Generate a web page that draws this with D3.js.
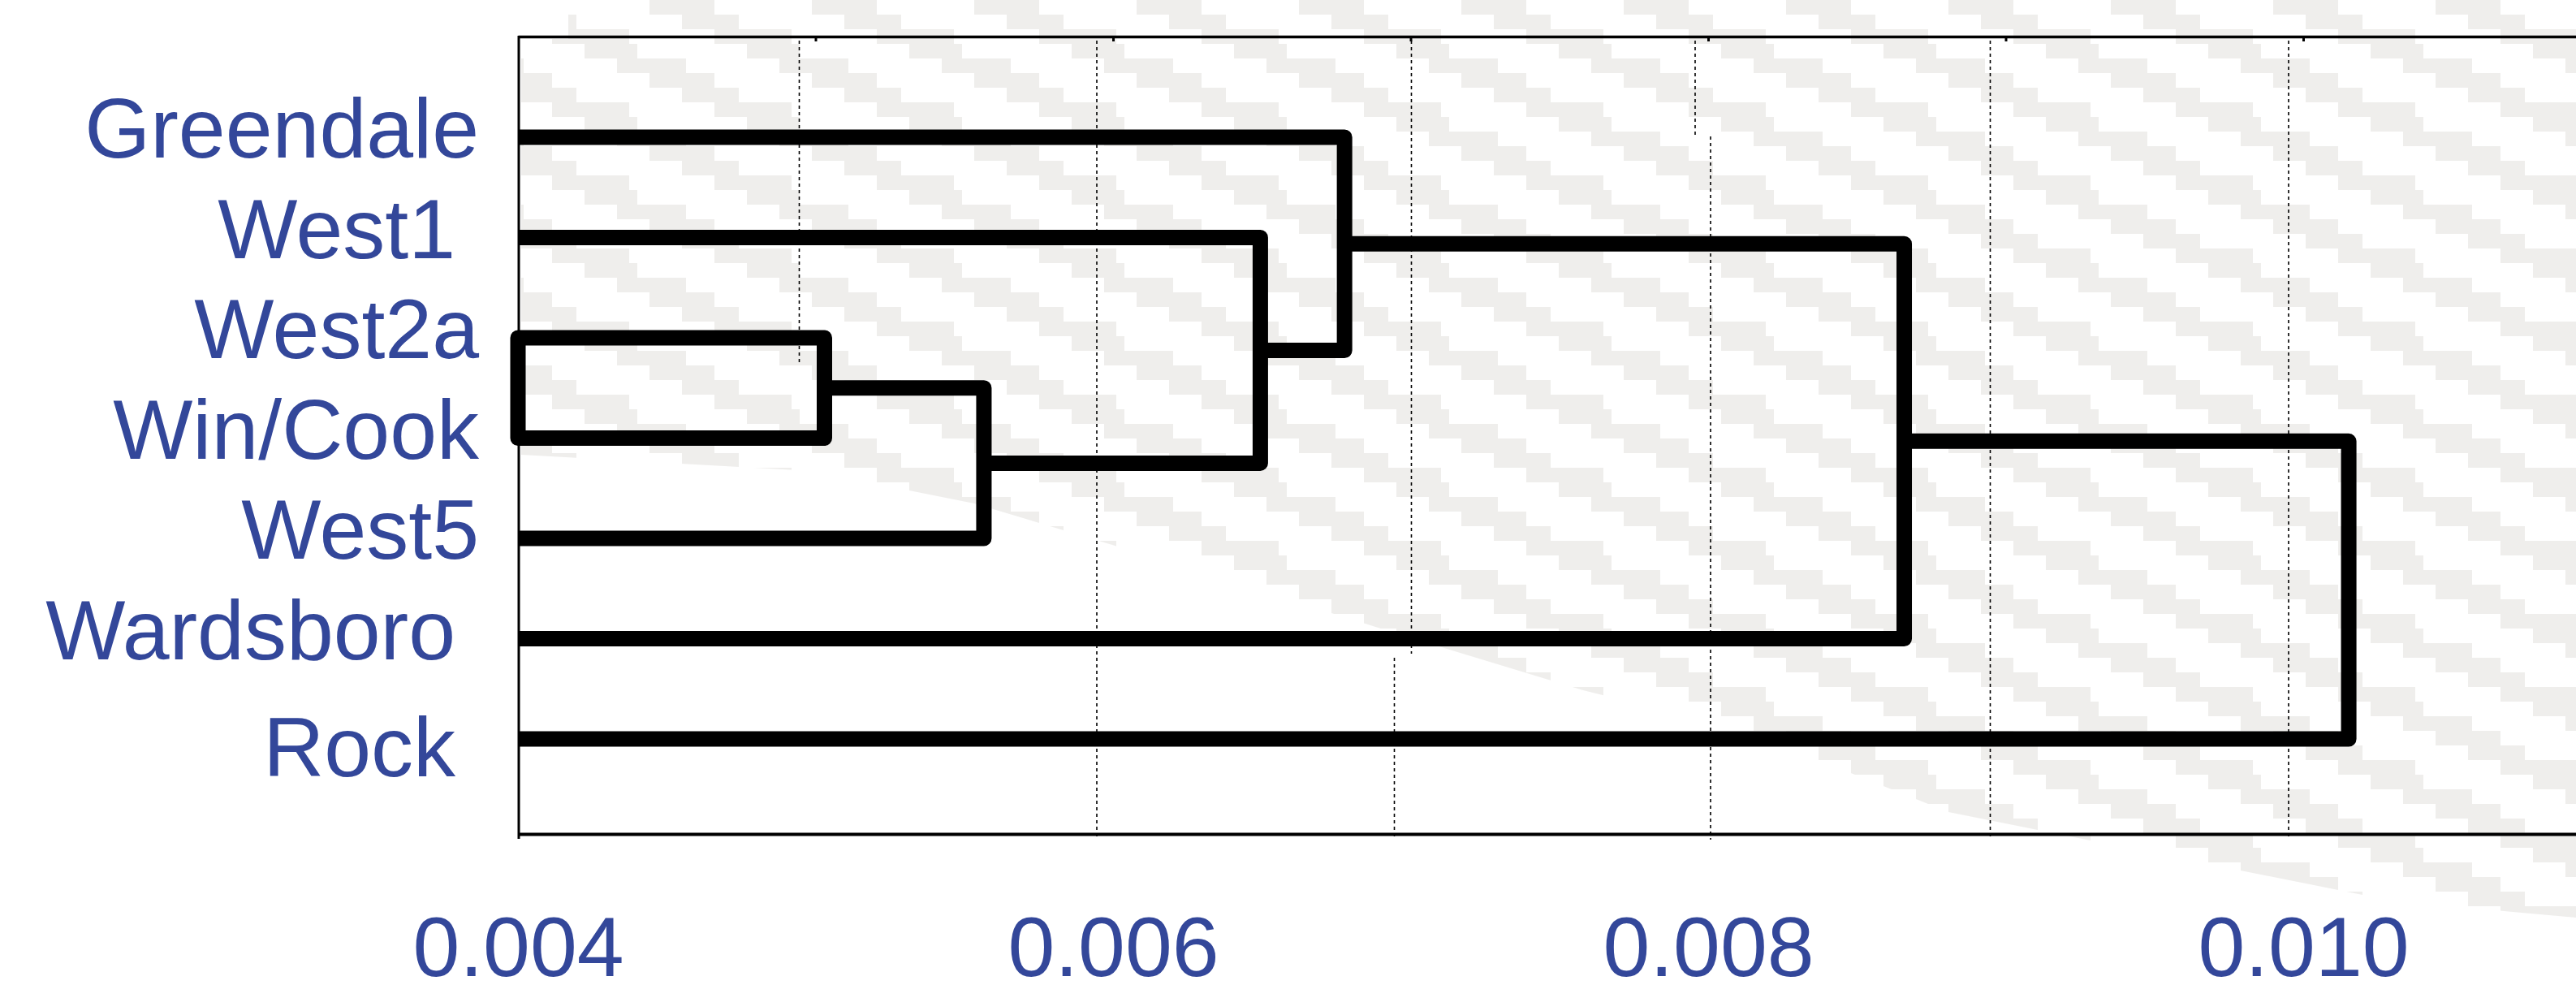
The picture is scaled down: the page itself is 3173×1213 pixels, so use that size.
<!DOCTYPE html>
<html>
<head>
<meta charset="utf-8">
<script src="https://cdn.jsdelivr.net/npm/d3@7"></script>
<style>
  html, body { margin: 0; padding: 0; background: #ffffff; }
  svg { display: block; }
  text { white-space: pre; }
</style>
</head>
<body>
<svg id="chart" width="3173" height="1213"></svg>
<script>
// ---------------- DATA ----------------
const leaves      = ["Greendale", "West1", "West2a", "Win/Cook", "West5", "Wardsboro", "Rock"];
const leafLabels  = ["Greendale", "West1 ", "West2a", "Win/Cook", "West5", "Wardsboro ", "Rock "];
// agglomeration steps: cluster "c<i+1>" = mergeLeft[i] + mergeRight[i] at mergeHeight[i]
const mergeLeft   = ["West2a", "c1", "c2", "c3", "c4", "c5"];
const mergeRight  = ["Win/Cook", "West5", "West1", "Greendale", "Wardsboro", "Rock"];
const mergeHeight = [0.00503, 0.005566, 0.006495, 0.006778, 0.008659, 0.010153];
const tickLabels  = [0.004, 0.006, 0.008, 0.010];
const minorTicks  = [0.005, 0.006, 0.007, 0.008, 0.009, 0.010];
const axisMin = 0.004, axisMax = 0.011;

// ---------------- LAYOUT / STYLE ----------------
const W = 3173, H = 1213;
const plotLeft = 638, plotTop = 45, plotBottom = 1027;
const pxPerUnit = 366500;
const blue = "#33479a";
const fontFamily = "'Liberation Sans', Arial, Helvetica, sans-serif";
const lineW = 19;

const svg = d3.select("#chart");
svg.append("rect").attr("width", W).attr("height", H).attr("fill", "#ffffff");

const x = d3.scaleLinear().domain([axisMin, axisMax])
  .range([plotLeft, plotLeft + (axisMax - axisMin) * pxPerUnit]);
const y = d3.scalePoint().domain(leaves).range([169, 910]);

// ---------------- background watermark pattern ----------------
const defs = svg.append("defs");
const pat = defs.append("pattern").attr("id", "bgpat")
  .attr("patternUnits", "userSpaceOnUse").attr("width", 200).attr("height", 90);
const rowW = [80, 70, 95, 65, 85];
d3.range(5).forEach(i => {
  const x0 = i * 40, w = rowW[i];
  pat.append("rect").attr("x", x0).attr("y", i * 18).attr("width", w).attr("height", 18).attr("fill", "#efeeec");
  if (x0 + w > 200) pat.append("rect").attr("x", x0 - 200).attr("y", i * 18).attr("width", w).attr("height", 18).attr("fill", "#efeeec");
});
defs.append("clipPath").attr("id", "bgclip").append("polygon")
  .attr("points", [[700,0],[3173,0],[3173,1130],[2950,1110],[2700,1060],[2400,1000],[2150,900],
                   [1950,850],[1720,780],[1400,680],[1200,620],[1000,580],[642,560],[642,48],[700,48]]
        .map(p => p.join(",")).join(" "));
svg.append("rect").attr("x", 0).attr("y", 0).attr("width", W).attr("height", H)
  .attr("fill", "url(#bgpat)").attr("clip-path", "url(#bgclip)");

// ---------------- dotted gridlines ----------------
const gridSpec = [
  { v: 0.005, segs: [[50, 446, -20]] },
  { v: 0.006, segs: [[50, 1034, -20]] },
  { v: 0.007, segs: [[50, 805, 1], [810, 1034, -20]] },
  { v: 0.008, segs: [[50, 168, -16], [168, 1034, 3]] },
  { v: 0.009, segs: [[50, 1034, -19]] },
  { v: 0.010, segs: [[50, 1034, -18]] }
];
const gridG = svg.append("g");
gridSpec.forEach(g => g.segs.forEach(s => {
  gridG.append("line")
    .attr("x1", x(g.v) + s[2]).attr("x2", x(g.v) + s[2])
    .attr("y1", s[0]).attr("y2", s[1])
    .attr("stroke", "#000").attr("stroke-width", 1.6).attr("stroke-dasharray", "4,4");
}));

// ---------------- frame / axes ----------------
// top border with small inward ticks
const topAxis = svg.append("g").attr("transform", `translate(0,${plotTop})`)
  .call(d3.axisBottom(x).tickValues(minorTicks).tickSize(6).tickSizeOuter(0).tickFormat(""));
topAxis.select(".domain").attr("stroke", "#000").attr("stroke-width", 3.5);
topAxis.selectAll(".tick line").attr("stroke", "#000").attr("stroke-width", 3);

// left axis line
svg.append("line").attr("x1", plotLeft + 1).attr("x2", plotLeft + 1)
  .attr("y1", plotTop - 1).attr("y2", plotBottom + 6).attr("stroke", "#000").attr("stroke-width", 3);

// bottom axis with labels
const botAxis = svg.append("g").attr("transform", `translate(0,${plotBottom})`)
  .call(d3.axisBottom(x).tickValues(tickLabels).tickSize(0).tickSizeOuter(0).tickFormat(d3.format(".3f")));
botAxis.select(".domain").attr("stroke", "#000").attr("stroke-width", 4);
botAxis.selectAll(".tick text")
  .attr("y", 175).attr("dy", null)
  .attr("fill", blue)
  .attr("font-family", fontFamily)
  .attr("font-size", 104);

// ---------------- dendrogram ----------------
const nodes = {};
leaves.forEach(l => nodes[l] = { x: x(axisMin), y: y(l), leaf: true });
mergeHeight.forEach((h, i) => {
  const a = nodes[mergeLeft[i]], b = nodes[mergeRight[i]];
  nodes["c" + (i + 1)] = { x: x(h), y: (a.y + b.y) / 2, a, b, leaf: false };
});

const dg = svg.append("g").attr("fill", "none").attr("stroke", "#000")
  .attr("stroke-width", lineW).attr("stroke-linejoin", "round").attr("stroke-linecap", "butt");
mergeHeight.forEach((h, i) => {
  const n = nodes["c" + (i + 1)], a = n.a, b = n.b;
  const p = d3.path();
  p.moveTo(a.x, a.y);
  p.lineTo(n.x, a.y);
  p.lineTo(n.x, b.y);
  p.lineTo(b.x, b.y);
  if (a.leaf && b.leaf) p.closePath();
  dg.append("path").attr("d", p.toString());
});

// ---------------- leaf labels ----------------
svg.append("g").selectAll("text").data(leaves).join("text")
  .attr("x", 590)
  .attr("y", d => y(d) + (d === "Rock" ? 46 : 25))
  .attr("text-anchor", "end")
  .attr("fill", blue)
  .attr("font-family", fontFamily)
  .attr("font-size", 104)
  .text((d, i) => leafLabels[i]);
</script>
</body>
</html>
